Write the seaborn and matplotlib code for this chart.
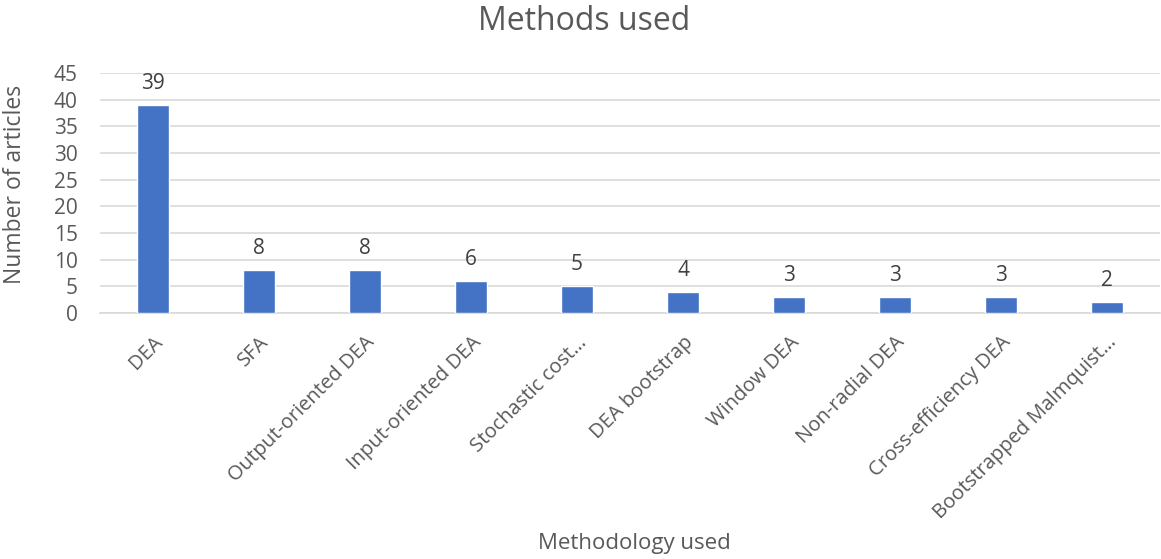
import matplotlib
matplotlib.use("Agg")
import matplotlib.pyplot as plt
import seaborn as sns
import pandas as pd

methods = ["DEA", "SFA", "Output-oriented DEA", "Input-oriented DEA",
           "Stochastic cost…", "DEA bootstrap", "Window DEA",
           "Non-radial DEA", "Cross-efficiency DEA", "Bootstrapped Malmquist…"]
articles = [39, 8, 8, 6, 5, 4, 3, 3, 3, 2]
y_ticks = [0, 5, 10, 15, 20, 25, 30, 35, 40, 45]

df = pd.DataFrame({"method": methods, "articles": articles})

sns.set_style("white")
plt.rcParams["font.family"] = ["Open Sans", "DejaVu Sans"]
text_color = "#595959"
grid_color = "#d9d9d9"

fig = plt.figure(figsize=(11.61, 5.59), dpi=100)
ax = fig.add_axes([100 / 1161, 1 - 313 / 559, 1060 / 1161, 240 / 559])

sns.barplot(data=df, x="method", y="articles", color="#4472c4",
            width=0.31, saturation=1, ax=ax, zorder=3)

ax.set_ylim(0, 45)
ax.set_xlim(-0.5, len(methods) - 0.5)
ax.set_yticks(y_ticks)
ax.yaxis.grid(True, color=grid_color, linewidth=1.2, zorder=0)
for side in ["top", "right", "left"]:
    ax.spines[side].set_visible(False)
ax.spines["bottom"].set_color(grid_color)
ax.spines["bottom"].set_linewidth(1.2)

# category boundary ticks below the axis
ax.set_xticks([i - 0.5 for i in range(len(methods) + 1)], minor=True)
ax.tick_params(axis="x", which="minor", length=6, color=grid_color, width=1.2, direction="out")
ax.tick_params(axis="x", which="major", length=0, pad=14)
ax.tick_params(axis="y", length=0, labelsize=15, colors=text_color, pad=16)

ax.set_xticks(range(len(methods)))
ax.set_xticklabels(methods, rotation=45, ha="right", va="top",
                   rotation_mode="anchor", fontsize=14.5, color=text_color)

for i, v in enumerate(articles):
    ax.annotate(str(v), (i, v), xytext=(0, 8), textcoords="offset points",
                ha="center", va="bottom", fontsize=15, color="#404040")

ax.set_xlabel("")
ax.set_ylabel("")
fig.text(634 / 1161, 1 - 543 / 559, "Methodology used", ha="center", va="center",
         fontsize=16, color=text_color)
fig.text(15 / 1161, 1 - 184 / 559, "Number of articles", ha="center", va="center",
         rotation=90, fontsize=16.5, color=text_color)

fig.text(584 / 1161, 1 - 22 / 559, "Methods used", ha="center", va="center",
         fontsize=23, color=text_color)

fig.savefig("out.png", dpi=100, facecolor="white")
